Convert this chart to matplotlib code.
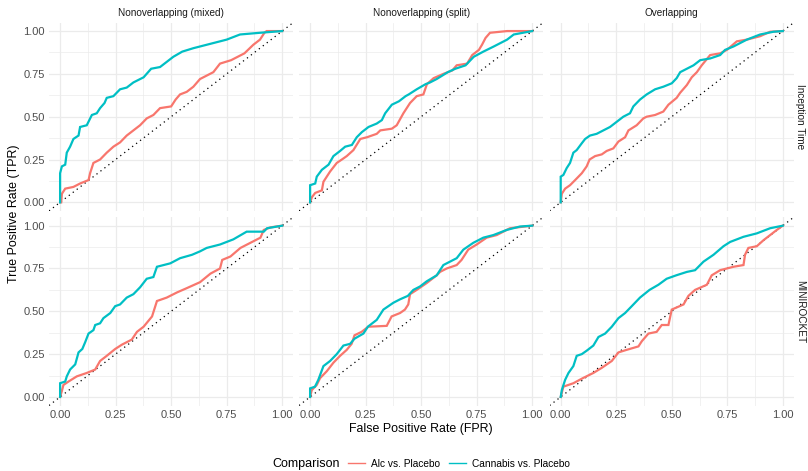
import matplotlib
matplotlib.use("Agg")
import matplotlib.pyplot as plt
from matplotlib.lines import Line2D
from matplotlib.ticker import MultipleLocator

plt.rcParams['font.family'] = ['Liberation Sans', 'DejaVu Sans']

# ROC points (FPR, TPR) per model / window setup / comparison
inc_mixed_alc_fpr = [0, 0.005, 0.008, 0.023, 0.06, 0.09, 0.128, 0.135, 0.15, 0.18, 0.21, 0.24, 0.27, 0.30, 0.33, 0.36, 0.39, 0.42, 0.45, 0.50, 0.52, 0.54, 0.57, 0.60, 0.63, 0.66, 0.69, 0.72, 0.77, 0.80, 0.83, 0.87, 0.90, 0.92, 0.93, 1.0]
inc_mixed_alc_tpr = [0, 0.0, 0.05, 0.08, 0.09, 0.11, 0.13, 0.17, 0.23, 0.25, 0.29, 0.325, 0.35, 0.39, 0.42, 0.45, 0.49, 0.51, 0.55, 0.56, 0.60, 0.63, 0.645, 0.675, 0.72, 0.74, 0.76, 0.81, 0.83, 0.85, 0.87, 0.92, 0.95, 0.99, 1.0, 1.0]
inc_mixed_can_fpr = [0, 0, 0.008, 0.023, 0.03, 0.045, 0.06, 0.083, 0.09, 0.12, 0.143, 0.165, 0.18, 0.20, 0.21, 0.24, 0.27, 0.30, 0.33, 0.376, 0.41, 0.45, 0.48, 0.51, 0.55, 0.60, 0.66, 0.75, 0.81, 0.90, 1.0]
inc_mixed_can_tpr = [0, 0.17, 0.21, 0.22, 0.29, 0.325, 0.37, 0.39, 0.44, 0.45, 0.51, 0.52, 0.55, 0.58, 0.61, 0.62, 0.66, 0.67, 0.70, 0.73, 0.78, 0.79, 0.82, 0.85, 0.88, 0.90, 0.92, 0.95, 0.98, 0.99, 1.0]

inc_split_alc_fpr = [0, 0.008, 0.023, 0.053, 0.06, 0.09, 0.12, 0.143, 0.165, 0.195, 0.226, 0.256, 0.30, 0.316, 0.368, 0.39, 0.42, 0.45, 0.48, 0.51, 0.526, 0.556, 0.60, 0.64, 0.66, 0.707, 0.73, 0.76, 0.774, 0.79, 0.81, 0.887, 1.0]
inc_split_alc_tpr = [0, 0.03, 0.055, 0.07, 0.12, 0.18, 0.23, 0.25, 0.27, 0.305, 0.37, 0.38, 0.40, 0.42, 0.43, 0.45, 0.52, 0.58, 0.62, 0.63, 0.69, 0.725, 0.75, 0.77, 0.80, 0.81, 0.86, 0.89, 0.92, 0.96, 0.99, 1.0, 1.0]
inc_split_can_fpr = [0, 0, 0.023, 0.03, 0.053, 0.083, 0.105, 0.135, 0.158, 0.188, 0.21, 0.233, 0.263, 0.30, 0.323, 0.338, 0.368, 0.40, 0.43, 0.444, 0.48, 0.52, 0.54, 0.57, 0.62, 0.654, 0.70, 0.737, 0.78, 0.827, 0.887, 0.917, 1.0]
inc_split_can_tpr = [0, 0.10, 0.11, 0.15, 0.19, 0.22, 0.27, 0.30, 0.325, 0.335, 0.38, 0.41, 0.44, 0.46, 0.48, 0.52, 0.57, 0.59, 0.62, 0.63, 0.66, 0.69, 0.70, 0.72, 0.76, 0.78, 0.80, 0.85, 0.88, 0.91, 0.95, 0.98, 1.0]

inc_over_alc_fpr = [0, 0.005, 0.02, 0.042, 0.065, 0.095, 0.117, 0.13, 0.155, 0.185, 0.207, 0.237, 0.26, 0.29, 0.305, 0.342, 0.372, 0.387, 0.425, 0.462, 0.485, 0.522, 0.538, 0.568, 0.59, 0.613, 0.635, 0.673, 0.718, 0.748, 0.793, 0.838, 0.898, 0.943, 1.0]
inc_over_alc_tpr = [0, 0.05, 0.08, 0.10, 0.13, 0.17, 0.21, 0.25, 0.27, 0.28, 0.30, 0.315, 0.355, 0.38, 0.42, 0.45, 0.49, 0.50, 0.51, 0.53, 0.57, 0.61, 0.64, 0.685, 0.73, 0.76, 0.80, 0.86, 0.87, 0.89, 0.94, 0.95, 0.97, 0.996, 1.0]
inc_over_can_fpr = [0, 0, 0.012, 0.027, 0.042, 0.057, 0.072, 0.095, 0.11, 0.132, 0.162, 0.192, 0.222, 0.252, 0.282, 0.312, 0.327, 0.357, 0.387, 0.425, 0.462, 0.50, 0.522, 0.538, 0.568, 0.598, 0.628, 0.673, 0.718, 0.74, 0.778, 0.838, 0.898, 0.958, 1.0]
inc_over_can_tpr = [0, 0.15, 0.16, 0.20, 0.23, 0.29, 0.305, 0.345, 0.37, 0.39, 0.40, 0.42, 0.44, 0.47, 0.50, 0.52, 0.56, 0.60, 0.63, 0.66, 0.675, 0.695, 0.725, 0.76, 0.78, 0.80, 0.83, 0.84, 0.86, 0.89, 0.91, 0.95, 0.98, 0.996, 1.0]

mini_mixed_alc_fpr = [0, 0.008, 0.015, 0.038, 0.075, 0.12, 0.158, 0.18, 0.21, 0.248, 0.278, 0.323, 0.346, 0.376, 0.414, 0.436, 0.48, 0.526, 0.57, 0.63, 0.677, 0.72, 0.73, 0.767, 0.812, 0.857, 0.902, 0.917, 0.947, 1.0]
mini_mixed_alc_tpr = [0, 0.035, 0.07, 0.09, 0.12, 0.14, 0.16, 0.21, 0.24, 0.28, 0.305, 0.335, 0.38, 0.41, 0.47, 0.56, 0.58, 0.61, 0.635, 0.67, 0.72, 0.75, 0.80, 0.82, 0.87, 0.90, 0.93, 0.975, 0.99, 1.0]
mini_mixed_can_fpr = [0, 0, 0.023, 0.03, 0.045, 0.068, 0.083, 0.10, 0.113, 0.128, 0.15, 0.158, 0.18, 0.195, 0.226, 0.248, 0.27, 0.30, 0.33, 0.36, 0.39, 0.42, 0.436, 0.466, 0.496, 0.54, 0.594, 0.63, 0.66, 0.72, 0.78, 0.84, 0.917, 0.932, 1.0]
mini_mixed_can_tpr = [0, 0.08, 0.09, 0.12, 0.16, 0.19, 0.26, 0.28, 0.32, 0.37, 0.39, 0.42, 0.43, 0.46, 0.49, 0.53, 0.54, 0.58, 0.60, 0.64, 0.69, 0.70, 0.76, 0.77, 0.78, 0.81, 0.83, 0.85, 0.87, 0.89, 0.92, 0.965, 0.965, 0.985, 1.0]

mini_split_alc_fpr = [0, 0.0075, 0.03, 0.045, 0.075, 0.105, 0.135, 0.165, 0.187, 0.20, 0.232, 0.262, 0.345, 0.367, 0.405, 0.427, 0.442, 0.45, 0.48, 0.525, 0.57, 0.585, 0.615, 0.66, 0.682, 0.712, 0.75, 0.795, 0.84, 0.90, 1.0]
mini_split_alc_tpr = [0, 0.04, 0.07, 0.11, 0.15, 0.20, 0.24, 0.275, 0.31, 0.36, 0.38, 0.41, 0.415, 0.47, 0.49, 0.51, 0.54, 0.60, 0.625, 0.665, 0.71, 0.73, 0.75, 0.77, 0.80, 0.86, 0.89, 0.93, 0.945, 0.985, 1.0]
mini_split_can_fpr = [0, 0, 0.022, 0.037, 0.06, 0.09, 0.12, 0.15, 0.18, 0.20, 0.24, 0.26, 0.30, 0.33, 0.375, 0.405, 0.44, 0.465, 0.495, 0.525, 0.57, 0.60, 0.63, 0.66, 0.69, 0.735, 0.78, 0.825, 0.885, 0.945, 1.0]
mini_split_can_tpr = [0, 0.05, 0.06, 0.10, 0.18, 0.21, 0.25, 0.30, 0.31, 0.34, 0.37, 0.41, 0.45, 0.51, 0.55, 0.57, 0.59, 0.625, 0.645, 0.675, 0.71, 0.77, 0.79, 0.81, 0.86, 0.90, 0.93, 0.945, 0.975, 0.995, 1.0]

mini_over_alc_fpr = [0, 0.012, 0.057, 0.10, 0.147, 0.185, 0.23, 0.26, 0.297, 0.35, 0.365, 0.395, 0.432, 0.455, 0.485, 0.50, 0.553, 0.575, 0.605, 0.658, 0.68, 0.718, 0.778, 0.823, 0.83, 0.845, 0.883, 0.913, 0.943, 0.973, 1.0]
mini_over_alc_tpr = [0, 0.06, 0.08, 0.11, 0.14, 0.17, 0.21, 0.26, 0.275, 0.295, 0.325, 0.37, 0.38, 0.42, 0.42, 0.51, 0.54, 0.59, 0.625, 0.655, 0.71, 0.74, 0.76, 0.77, 0.83, 0.87, 0.88, 0.915, 0.945, 0.975, 1.0]
mini_over_can_fpr = [0, 0.005, 0.02, 0.035, 0.057, 0.072, 0.095, 0.117, 0.147, 0.17, 0.20, 0.23, 0.26, 0.29, 0.32, 0.357, 0.40, 0.44, 0.477, 0.52, 0.568, 0.605, 0.643, 0.688, 0.733, 0.763, 0.823, 0.883, 0.943, 1.0]
mini_over_can_tpr = [0, 0.04, 0.10, 0.14, 0.18, 0.24, 0.25, 0.27, 0.30, 0.35, 0.37, 0.41, 0.46, 0.49, 0.53, 0.58, 0.625, 0.655, 0.69, 0.71, 0.73, 0.74, 0.79, 0.83, 0.88, 0.905, 0.935, 0.955, 0.985, 1.0]

col_titles = ["Nonoverlapping (mixed)", "Nonoverlapping (split)", "Overlapping"]
row_titles = ["Inception Time", "MINIROCKET"]
comparisons = ["Alc vs. Placebo", "Cannabis vs. Placebo"]
colors = ["#F8766D", "#00BFC4"]
ticks = [0, 0.25, 0.5, 0.75, 1.0]
tick_labels = ["0.00", "0.25", "0.50", "0.75", "1.00"]

curves = [
    [[(inc_mixed_alc_fpr, inc_mixed_alc_tpr), (inc_mixed_can_fpr, inc_mixed_can_tpr)],
     [(inc_split_alc_fpr, inc_split_alc_tpr), (inc_split_can_fpr, inc_split_can_tpr)],
     [(inc_over_alc_fpr, inc_over_alc_tpr), (inc_over_can_fpr, inc_over_can_tpr)]],
    [[(mini_mixed_alc_fpr, mini_mixed_alc_tpr), (mini_mixed_can_fpr, mini_mixed_can_tpr)],
     [(mini_split_alc_fpr, mini_split_alc_tpr), (mini_split_can_fpr, mini_split_can_tpr)],
     [(mini_over_alc_fpr, mini_over_alc_tpr), (mini_over_can_fpr, mini_over_can_tpr)]],
]

W, H = 808, 471
fig = plt.figure(figsize=(W / 100, H / 100), dpi=100)

col_left = [49, 299, 549.6]
col_w = 244.3
row_top = [22.5, 217.1]
row_h = 188.4
txt_col = "#4D4D4D"

for r in range(2):
    for c in range(3):
        ax = fig.add_axes([col_left[c] / W, 1 - (row_top[r] + row_h) / H, col_w / W, row_h / H])
        ax.set_xlim(-0.05, 1.05)
        ax.set_ylim(-0.05, 1.05)
        ax.xaxis.set_minor_locator(MultipleLocator(0.125))
        ax.yaxis.set_minor_locator(MultipleLocator(0.125))
        ax.grid(which="major", color="#EBEBEB", linewidth=0.9)
        ax.grid(which="minor", color="#EBEBEB", linewidth=0.5)
        ax.set_axisbelow(True)
        for s in ax.spines.values():
            s.set_visible(False)
        ax.tick_params(which="both", length=0, pad=3, labelsize=8, labelcolor=txt_col)
        ax.set_xticks(ticks)
        ax.set_yticks(ticks)
        ax.set_xticklabels(tick_labels if r == 1 else [])
        ax.set_yticklabels(tick_labels if c == 0 else [])

        ax.plot([-0.05, 1.05], [-0.05, 1.05], color="black", linestyle=(0, (1, 3)), linewidth=0.9)
        for k, (fpr, tpr) in enumerate(curves[r][c]):
            ax.plot(fpr, tpr, color=colors[k], linewidth=1.6, solid_joinstyle="miter")

        if r == 0:
            ax.set_title(col_titles[c], fontsize=7.2, color="#1A1A1A", pad=5)
        if c == 2:
            ax.text(1.025, 0.5, row_titles[r], transform=ax.transAxes, rotation=-90,
                    ha="center", va="center", fontsize=7.2, color="#1A1A1A")

fig.text(14 / W, 1 - 214 / H, "True Positive Rate (TPR)", rotation=90, ha="center", va="center",
         fontsize=8.9)
fig.text(421 / W, 1 - 429 / H, "False Positive Rate (FPR)", ha="center", va="center", fontsize=8.9)

# legend along the bottom
fig.text(272 / W, 1 - 464 / H, "Comparison", ha="left", va="center", fontsize=9)
handles = [Line2D([], [], color=colors[k], linewidth=1.0) for k in range(2)]
fig.legend(handles, comparisons, loc="center", bbox_to_anchor=(459 / W, 1 - 464 / H), ncol=2,
           frameon=False, fontsize=7.3, handlelength=1.7, handletextpad=0.6, columnspacing=0.9)

fig.savefig("out.png", dpi=100)
